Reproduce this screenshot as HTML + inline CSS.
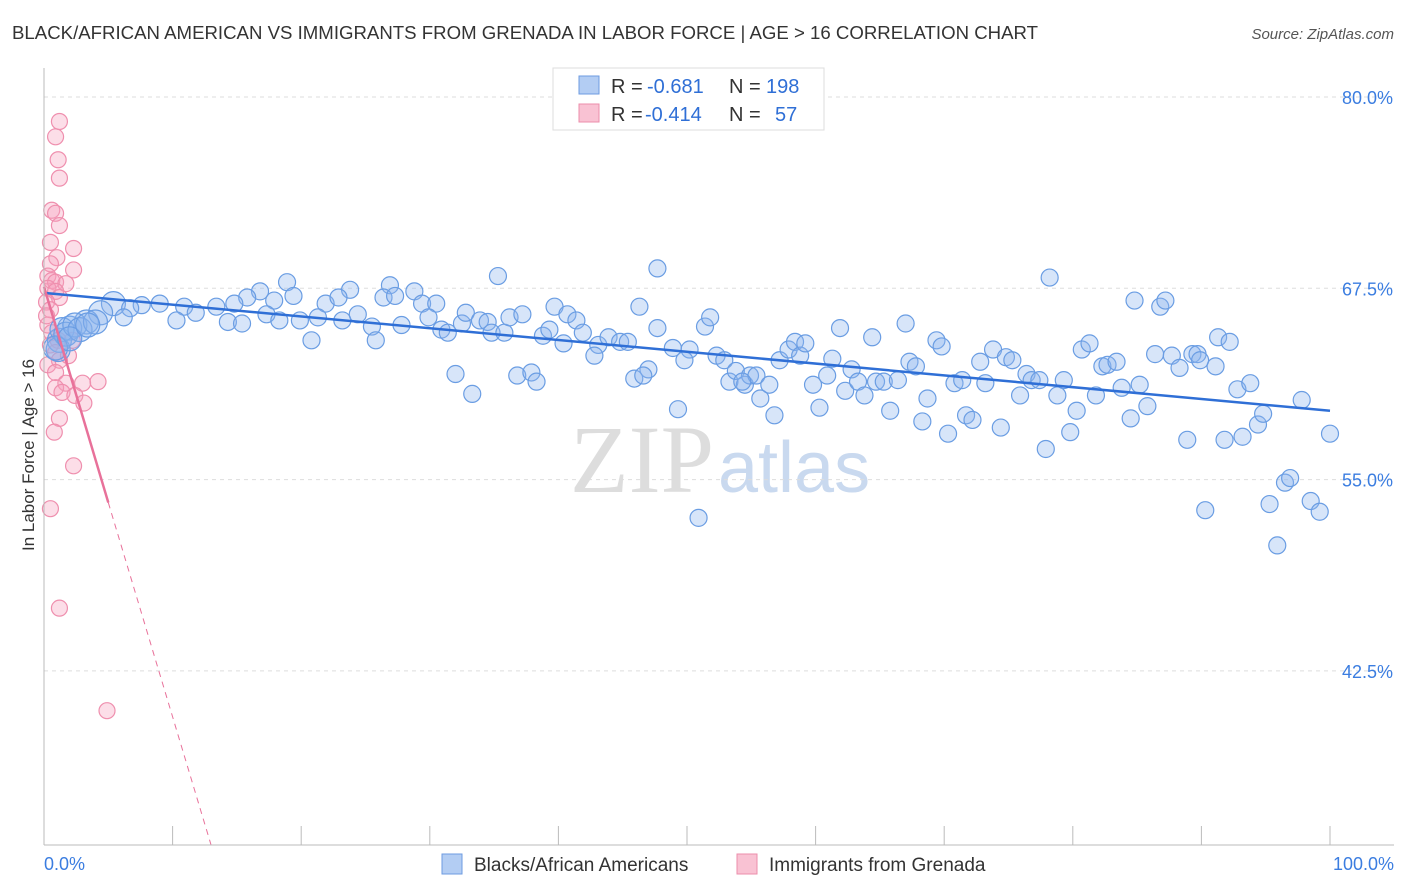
<!DOCTYPE html>
<html><head><meta charset="utf-8">
<style>
body{margin:0;background:#fff;font-family:"Liberation Sans",sans-serif;}
#c{position:relative;width:1406px;height:892px;overflow:hidden;}
</style></head>
<body>
<div id="c">
<svg id="s" width="1406" height="892" xmlns="http://www.w3.org/2000/svg">
<text x="12" y="39" font-size="18" fill="#333" textLength="1026" lengthAdjust="spacingAndGlyphs">BLACK/AFRICAN AMERICAN VS IMMIGRANTS FROM GRENADA IN LABOR FORCE | AGE &gt; 16 CORRELATION CHART</text>
<text x="1394" y="39" font-size="15" fill="#555" font-style="italic" text-anchor="end">Source: ZipAtlas.com</text>
<text x="714" y="492" font-size="96" fill="#ddd" text-anchor="end" font-family="Liberation Serif">ZIP</text>
<text x="718" y="492" font-size="72" fill="#c9d9ef">atlas</text>
<text transform="translate(34,455) rotate(-90)" font-size="17" fill="#333" text-anchor="middle">In Labor Force | Age &gt; 16</text>
<g id="grid"></g><g id="pink"></g><g id="blue"></g><g id="lines"></g><g id="axes"></g>
<g>
<rect x="553" y="68" width="271" height="62" fill="#fff" stroke="#ddd"/>
<rect x="579" y="76" width="20" height="18" fill="#b3cdf3" stroke="#6e9be0"/>
<rect x="579" y="104" width="20" height="18" fill="#f9c2d3" stroke="#ec8eab"/>
<text x="611" y="93" font-size="20" fill="#333">R =</text><text x="647" y="93" font-size="20" fill="#2f6fd6">-0.681</text>
<text x="729" y="93" font-size="20" fill="#333">N =</text><text x="766" y="93" font-size="20" fill="#2f6fd6">198</text>
<text x="611" y="121" font-size="20" fill="#333">R =</text><text x="645" y="121" font-size="20" fill="#2f6fd6">-0.414</text>
<text x="729" y="121" font-size="20" fill="#333">N =</text><text x="775" y="121" font-size="20" fill="#2f6fd6">57</text>
</g>
<g>
<rect x="442" y="854" width="20" height="20" fill="#b3cdf3" stroke="#6e9be0"/>
<text x="474" y="871" font-size="19" fill="#333">Blacks/African Americans</text>
<rect x="737" y="854" width="20" height="20" fill="#f9c2d3" stroke="#ec8eab"/>
<text x="769" y="871" font-size="19" fill="#333">Immigrants from Grenada</text>
</g>
</svg>
</div>
<script>
const yTicks=[80,67.5,55,42.5];
const yTickLabels=["80.0%","67.5%","55.0%","42.5%"];
const xLabels=["0.0%","100.0%"];
const blueX=[78.2,47.7,35.3,18.9,16.8,19.4,23.8,26.9,28.8,26.4,27.3,29.4,30.5,21.9,22.9,15.8,17.9,14.8,13.4,10.9,9.0,7.6,5.4,6.7,4.4,6.2,3.3,2.0,1.2,1.1,11.8,10.3,14.3,15.4,17.3,18.3,19.9,21.3,20.8,23.2,24.4,25.5,25.8,27.8,29.9,30.9,31.4,32.5,32.8,33.9,34.5,34.8,35.8,36.2,37.2,38.8,39.3,39.7,40.4,40.7,41.4,41.9,43.1,43.9,42.8,44.8,45.4,46.3,47.7,48.9,50.2,49.8,51.4,51.8,52.3,52.9,45.9,47.0,46.6,53.3,53.8,54.5,54.9,55.4,55.7,56.4,56.8,57.2,57.9,58.4,58.8,59.2,59.8,60.3,60.9,61.3,61.9,62.3,62.8,63.3,63.8,64.4,64.7,65.3,65.8,66.4,67.0,67.3,67.8,68.3,68.7,69.4,69.8,70.3,70.8,71.4,71.7,72.2,72.8,73.2,73.8,74.4,74.8,75.3,75.9,76.4,76.8,77.4,77.9,78.8,79.3,79.8,80.3,80.7,81.3,81.8,82.3,82.7,83.4,83.8,84.5,84.8,85.2,85.8,86.4,86.8,87.2,87.7,88.3,88.9,89.3,89.7,90.3,91.1,91.3,91.8,92.2,92.8,93.2,93.8,94.4,94.8,95.3,95.9,96.5,96.9,97.8,98.5,99.2,100.0,50.9,49.3,33.3,32.0,36.8,37.9,38.3,54.3,89.9,1.4,1.7,2.4,2.8,4.0,0.9,2.0,3.4];
const blueY=[68.2,68.8,68.3,67.9,67.3,67.0,67.4,67.7,67.3,66.9,67.0,66.5,66.5,66.5,66.9,66.9,66.7,66.5,66.3,66.3,66.5,66.4,66.5,66.2,65.9,65.6,65.3,64.9,64.1,63.5,65.9,65.4,65.3,65.2,65.8,65.4,65.4,65.6,64.1,65.4,65.8,65.0,64.1,65.1,65.6,64.8,64.6,65.2,65.9,65.4,65.3,64.6,64.6,65.6,65.8,64.4,64.8,66.3,63.9,65.8,65.4,64.6,63.8,64.3,63.1,64.0,64.0,66.3,64.9,63.6,63.5,62.8,65.0,65.6,63.1,62.8,61.6,62.2,61.8,61.4,62.1,61.2,61.8,61.8,60.3,61.2,59.2,62.8,63.5,64.0,63.1,63.9,61.2,59.7,61.8,62.9,64.9,60.8,62.2,61.4,60.5,64.3,61.4,61.4,59.5,61.5,65.2,62.7,62.4,58.8,60.3,64.1,63.7,58.0,61.3,61.5,59.2,58.9,62.7,61.3,63.5,58.4,63.0,62.8,60.5,61.9,61.5,61.5,57.0,60.5,61.5,58.1,59.5,63.5,63.9,60.5,62.4,62.5,62.7,61.0,59.0,66.7,61.2,59.8,63.2,66.3,66.7,63.1,62.3,57.6,63.2,63.2,53.0,62.4,64.3,57.6,64.0,60.9,57.8,61.3,58.6,59.3,53.4,50.7,54.8,55.1,60.2,53.6,52.9,58.0,52.5,59.6,60.6,61.9,61.8,62.0,61.4,61.4,62.8,64.8,64.5,65.1,64.8,65.3,63.6,64.2,65.1];
const pinkX=[1.2,0.9,1.1,1.2,0.6,0.9,1.2,0.5,2.3,1.0,0.5,2.3,0.3,0.6,0.9,0.3,1.7,0.9,1.2,0.2,0.5,0.3,0.6,1.1,0.5,0.9,1.2,0.3,0.9,1.7,3.0,4.2,0.9,1.4,2.4,3.1,1.2,0.8,2.3,0.5,1.2,4.9,1.9,2.2,0.2];
const pinkY=[78.4,77.4,75.9,74.7,72.6,72.4,71.6,70.5,70.1,69.5,69.1,68.7,68.3,68.0,67.9,67.5,67.8,67.3,66.9,66.6,66.1,65.1,64.6,64.1,63.8,63.3,62.8,62.5,62.0,61.3,61.3,61.4,61.0,60.7,60.5,60.0,59.0,58.1,55.9,53.1,46.6,39.9,63.1,64.1,65.7];
const blueTrend=[[0,67.2],[100,59.5]];
const pinkTrend=[[0,67.6],[5,53.5],[13,31.1]];
const X0=44,X1=1330,YT=80,YPX=97,PXPER=191.3/12.5,BOT=845;
const xs=v=>X0+v*(X1-X0)/100, ys=v=>YPX+(YT-v)*PXPER;
const NS="http://www.w3.org/2000/svg";
function mk(t,a,p){const e=document.createElementNS(NS,t);for(const k in a)e.setAttribute(k,a[k]);document.getElementById(p).appendChild(e);return e;}
yTicks.forEach((v,i)=>{
 const l=mk('line',{x1:X0,x2:1394,y1:ys(v),y2:ys(v),stroke:'#ddd','stroke-dasharray':'4,4'},'grid');
 
 
 const t=mk('text',{x:1393,y:ys(v)+7,'font-size':18,fill:'#3b7de0','text-anchor':'end'},'axes');
 t.textContent=yTickLabels[i];
 
 
});
const ax=mk('line',{x1:X0,x2:X0,y1:68,y2:BOT,stroke:'#bbb'},'axes');


const bx=mk('line',{x1:X0,x2:1394,y1:BOT,y2:BOT,stroke:'#bbb'},'axes');


for(let i=0;i<=10;i++){const tk=mk('line',{x1:xs(i*10),x2:xs(i*10),y1:826,y2:BOT,stroke:'#bbb'},'axes');
 
 }
[[0,'start',44],[100,'end',1394]].forEach((d,i)=>{const t=mk('text',{x:d[2],y:870,'font-size':18,fill:'#3b7de0','text-anchor':d[1]},'axes');t.textContent=xLabels[i];
 
 });
pinkX.forEach((v,i)=>{const c=mk('circle',{cx:xs(v),cy:ys(pinkY[i]),r:8,fill:'rgba(246,160,188,0.35)',stroke:'#ef8fae','stroke-width':1.2},'pink');
 
 });
blueX.forEach((v,i)=>{const c=mk('circle',{cx:xs(v),cy:ys(blueY[i]),r:v<6?12:8.5,fill:'rgba(140,180,238,0.35)',stroke:'#6a9de3','stroke-width':1.2},'blue');
 
 });
const bl=mk('line',{x1:xs(blueTrend[0][0]),y1:ys(blueTrend[0][1]),x2:xs(blueTrend[1][0]),y2:ys(blueTrend[1][1]),stroke:'#2f6fd6','stroke-width':2.5},'lines');


const p1=mk('line',{x1:xs(pinkTrend[0][0]),y1:ys(pinkTrend[0][1]),x2:xs(pinkTrend[1][0]),y2:ys(pinkTrend[1][1]),stroke:'#e8719a','stroke-width':2.5},'lines');


const p2=mk('line',{x1:xs(pinkTrend[1][0]),y1:ys(pinkTrend[1][1]),x2:xs(pinkTrend[2][0]),y2:ys(pinkTrend[2][1]),stroke:'#e8719a','stroke-width':1,'stroke-dasharray':'6,5'},'lines');


</script>
</body></html>
